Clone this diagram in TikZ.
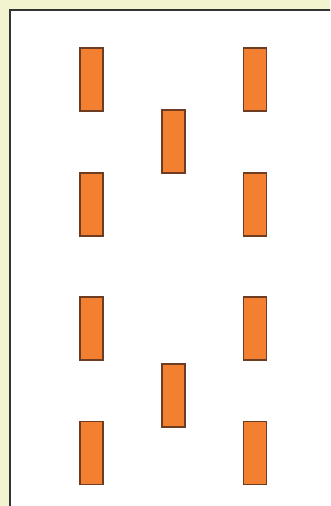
\documentclass[tikz,border=0pt]{standalone}
\usepackage{tikz}

\definecolor{paneyellow}{RGB}{242,244,208}
\definecolor{blockorange}{RGB}{242,128,48}
\definecolor{blockedge}{RGB}{110,60,35}

\tikzset{
	block/.style={shape=rectangle, draw=blockedge, fill=blockorange, line width=1.3pt, minimum width=23pt, minimum height=63pt, inner sep=0pt},
	frame/.style={draw=black!80, fill=white, line width=2pt}
}

\begin{document}
\begin{tikzpicture}[x=1pt, y=-1pt]
	% Background and frame:
	\useasboundingbox (0, 0) rectangle (330, 506);
	\clip (0, 0) rectangle (330, 506);
	\fill[paneyellow] (0, 0) rectangle (330, 506);
	\draw[frame] (10, 10) rectangle (340, 520);
	% Left column:
	\node[block] (left1) at (91.5, 79.5){};
	\node[block] (left2) at (91.5, 204.5){};
	\node[block] (left3) at (91.5, 328.5){};
	\node[block] (left4) at (91.5, 453){};
	% Middle column:
	\node[block] (mid1) at (173.5, 141.5){};
	\node[block] (mid2) at (173.5, 395.5){};
	% Right column:
	\node[block] (right1) at (255, 79.5){};
	\node[block] (right2) at (255, 204.5){};
	\node[block] (right3) at (255, 328.5){};
	\node[block] (right4) at (255, 453){};
\end{tikzpicture}
\end{document}
